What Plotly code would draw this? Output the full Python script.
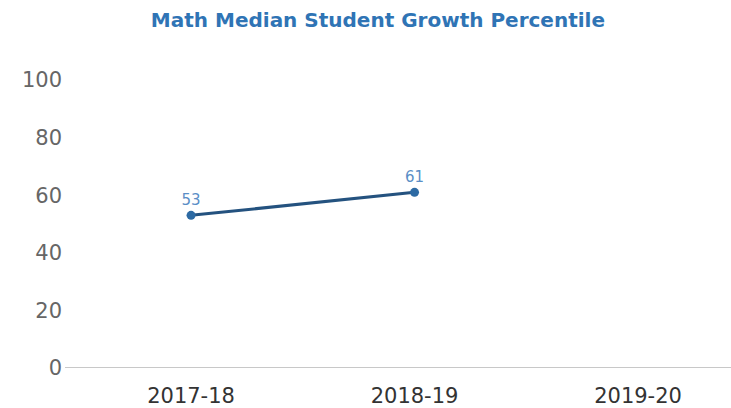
import plotly.graph_objects as go

years = ["2017-18", "2018-19", "2019-20"]
growth = [53, 61, None]
y_ticks = [0, 20, 40, 60, 80, 100]

fig = go.Figure()
fig.add_trace(go.Scatter(
    x=years,
    y=growth,
    mode="lines+markers+text",
    text=[str(v) if v is not None else "" for v in growth],
    textposition="top center",
    textfont=dict(family="DejaVu Sans", size=15, color="#5a8ec6"),
    line=dict(color="#24527f", width=3),
    marker=dict(color="#2d6aa3", size=9),
    hoverinfo="skip",
    cliponaxis=False,
))

fig.update_layout(
    width=731,
    height=408,
    margin=dict(l=65, r=0, t=80, b=40),
    paper_bgcolor="white",
    plot_bgcolor="white",
    showlegend=False,
    title=dict(
        text="<b>Math Median Student Growth Percentile</b>",
        x=0.517, xanchor="center",
        y=0.95, yanchor="middle",
        font=dict(family="DejaVu Sans", size=20, color="#2f74b5"),
    ),
    xaxis=dict(
        type="category",
        categoryorder="array",
        categoryarray=years,
        range=[-0.564, 2.416],
        showgrid=False,
        showline=False,
        zeroline=False,
        ticks="",
        ticklabelstandoff=13,
        tickfont=dict(family="DejaVu Sans", size=21, color="#333333"),
    ),
    yaxis=dict(
        range=[0, 100],
        tickvals=y_ticks,
        showgrid=False,
        zeroline=False,
        showline=False,
        ticks="",
        ticklabelstandoff=2,
        tickfont=dict(family="DejaVu Sans", size=21, color="#666666"),
    ),
)

# baseline along zero
fig.add_shape(type="line", xref="paper", yref="y", x0=0, x1=1, y0=0, y1=0,
              line=dict(color="#c8c8c8", width=2), layer="below")

fig.write_html("out.html")
